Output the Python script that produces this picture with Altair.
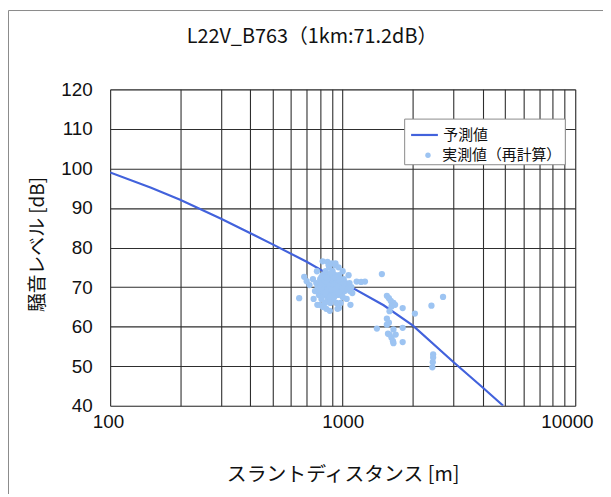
import altair as alt
import pandas as pd

# ---- data ----
x_grid = [100, 200, 300, 400, 500, 600, 700, 800, 900,
          1000, 2000, 3000, 4000, 5000, 6000, 7000, 8000, 9000, 10000]
x_labels = [100, 1000, 10000]
y_grid = [40, 50, 60, 70, 80, 90, 100, 110, 120]

curve_d = [100, 150, 200, 300, 500, 700, 1000, 1500, 2000, 3000, 4000, 4900]
curve_L = [99.0, 95.1, 92.1, 87.3, 80.8, 76.4, 71.2, 65.4, 60.3, 51.0, 44.6, 40.0]

obs_d = [650, 683, 745, 750, 760, 770, 775, 778, 780, 790, 795, 800, 800, 810, 815,
         820, 820, 820, 825, 830, 835, 840, 840, 845, 850, 850, 855, 860, 860, 860,
         865, 870, 870, 870, 875, 880, 880, 880, 885, 890, 890, 895, 900, 900, 900,
         905, 910, 910, 915, 920, 925, 930, 930, 931, 935, 940, 940, 945, 950, 950,
         955, 960, 960, 963, 965, 970, 980, 980, 990, 1000, 1000, 1010, 1020, 1030,
         1040, 1050, 1060, 1070, 1080, 1090, 1100,
         700, 720, 790, 805, 830, 845, 860, 875, 895, 915, 935, 955, 975, 995, 1015,
         840, 880, 920, 960, 1000, 810, 850, 890, 930, 970, 1010, 1045, 1075,
         1148, 1200, 1247, 1474, 1549, 1580, 1610, 1653, 1622, 1680, 1811, 1590,
         2044, 2408, 2701, 1549, 1580, 1403, 1653, 1811, 1566, 1590, 1690, 1622,
         1645, 1653, 1811, 1549, 2449, 2449, 2440, 2430]
obs_L = [67.2, 72.6, 72.0, 67.0, 69.0, 71.0, 74.0, 65.5, 70.0, 68.0, 65.5, 72.0, 69.0, 67.0, 71.0,
         73.0, 65.0, 76.5, 70.0, 68.0, 72.0, 66.0, 70.0, 74.0, 69.0, 64.5, 71.0, 67.0, 73.0, 76.4,
         70.0, 68.0, 72.0, 75.5, 75.0, 69.0, 71.0, 64.0, 66.0, 70.0, 73.0, 68.0, 71.0, 69.0, 76.0,
         74.0, 67.0, 72.0, 70.0, 68.0, 71.0, 73.0, 75.5, 76.0, 69.0, 66.0, 71.0, 70.0, 72.0, 64.5,
         68.0, 70.0, 75.0, 64.7, 73.0, 69.0, 71.0, 66.0, 68.0, 70.0, 74.0, 72.0, 69.0, 71.0,
         67.0, 70.0, 73.0, 71.0, 65.5, 70.0, 68.5,
         71.5, 70.5, 69.5, 70.5, 69.5, 71.5, 69.5, 70.5, 69.5, 70.5, 69.5, 70.5, 71.5, 69.5, 70.5,
         68.5, 67.5, 67.5, 68.5, 67.5, 72.5, 72.5, 73.5, 72.5, 72.0, 71.0, 69.5, 69.0,
         71.4, 71.3, 71.4, 73.3, 67.8, 67.2, 66.5, 66.0, 65.1, 65.5, 64.7, 63.9,
         63.3, 65.3, 67.5, 62.0, 61.0, 59.5, 59.3, 59.7, 58.2, 58.0, 58.0, 57.2,
         56.3, 55.8, 56.1, 60.5, 53.0, 52.2, 51.0, 49.7]

series_names = ["予測値", "実測値（再計算）"]
title_text = "L22V_B763（1km:71.2dB）"
x_title = "スラントディスタンス [m]"
y_title = "騒音レベル [dB]"

LINE_BLUE = "#4262DC"
POINT_BLUE = "#9DC4F2"
GRID = "#2e2e2e"
W, H = 469, 319
NUM_FONT = "Liberation Sans"
JP_FONT = "Noto Sans CJK JP"

line_df = pd.DataFrame({"d": curve_d, "L": curve_L, "s": series_names[0]})
pt_df = pd.DataFrame({"d": obs_d, "L": obs_L, "s": series_names[1]})
one = pd.DataFrame({"k": [0]})

xscale = alt.Scale(type="log", domain=[100, 10000], nice=False)
yscale = alt.Scale(domain=[40, 120], nice=False, zero=False)

label_expr = "indexof(" + str(x_labels) + ", datum.value) >= 0 ? '' + datum.value : ''"

xaxis = alt.Axis(values=x_grid, grid=True, gridColor=GRID, gridWidth=1.1, gridOpacity=1,
                 domain=False, ticks=False, labelExpr=label_expr, labelOverlap=False,
                 labelFont=NUM_FONT, labelFontSize=19, labelColor="#111", labelPadding=7,
                 labelFlush=True, labelFlushOffset=18,
                 title=x_title, titleFont=JP_FONT, titleFontSize=20, titleFontWeight="normal",
                 titleColor="#111", titleY=69, titleBaseline="middle")
yaxis = alt.Axis(values=y_grid, grid=True, gridColor=GRID, gridWidth=1.1, gridOpacity=1,
                 domain=False, ticks=False, labelFont=NUM_FONT, labelFontSize=19,
                 labelColor="#111", labelPadding=18,
                 title=y_title, titleFont=JP_FONT, titleFontSize=19, titleFontWeight="normal",
                 titleColor="#111", titleX=-73, titleY=156, titleAngle=-90,
                 titleBaseline="middle", titleAlign="center")

frame = alt.Chart(one).mark_rect(fill="white", fillOpacity=0, stroke="#8a8a8a",
                                 strokeWidth=1).encode(
    x=alt.value(-102.5), x2=alt.value(800), y=alt.value(-79.5), y2=alt.value(800))

lines = alt.Chart(line_df).mark_line(strokeWidth=2.2, clip=True).encode(
    x=alt.X("d:Q", scale=xscale, axis=xaxis),
    y=alt.Y("L:Q", scale=yscale, axis=yaxis),
    color=alt.Color("s:N", scale=alt.Scale(domain=[series_names[0]], range=[LINE_BLUE]),
                    legend=alt.Legend(orient="none", legendX=302, legendY=31, title=None,
                                      padding=0, symbolType="stroke", symbolSize=729,
                                      symbolStrokeWidth=2.2, labelFont=JP_FONT,
                                      labelFontSize=15, labelColor="#111", labelOffset=4)),
)

points = alt.Chart(pt_df).mark_circle(size=40, opacity=1).encode(
    x=alt.X("d:Q", scale=xscale, axis=xaxis),
    y=alt.Y("L:Q", scale=yscale, axis=yaxis),
    fill=alt.Fill("s:N", scale=alt.Scale(domain=[series_names[1]], range=[POINT_BLUE]),
                  legend=alt.Legend(orient="none", legendX=313, legendY=59, title=None,
                                    padding=0, symbolType="circle", symbolSize=30,
                                    symbolStrokeWidth=0, labelFont=JP_FONT,
                                    labelFontSize=15, labelColor="#111", labelOffset=7)),
)

legend_box = alt.Chart(one).mark_rect(fill="white", stroke="#8a8a8a", strokeWidth=1).encode(
    x=alt.value(297), x2=alt.value(459), y=alt.value(30), y2=alt.value(76))

chart = alt.layer(frame, lines, points, legend_box).resolve_legend(
    color="independent", fill="independent"
).properties(
    width=W, height=H,
    padding={"left": 103, "top": 80, "right": 28, "bottom": 87},
    autosize=alt.AutoSizeParams(type="none"),
    title=alt.TitleParams(title_text, font=JP_FONT, fontSize=20, fontWeight="normal",
                          color="#111", anchor="middle", frame="group", dx=-31,
                          offset=0, dy=37),
).configure_view(stroke="#222", strokeWidth=1).configure(background="white")

chart.save("out.html", embed_options={"renderer": "svg", "actions": False})
